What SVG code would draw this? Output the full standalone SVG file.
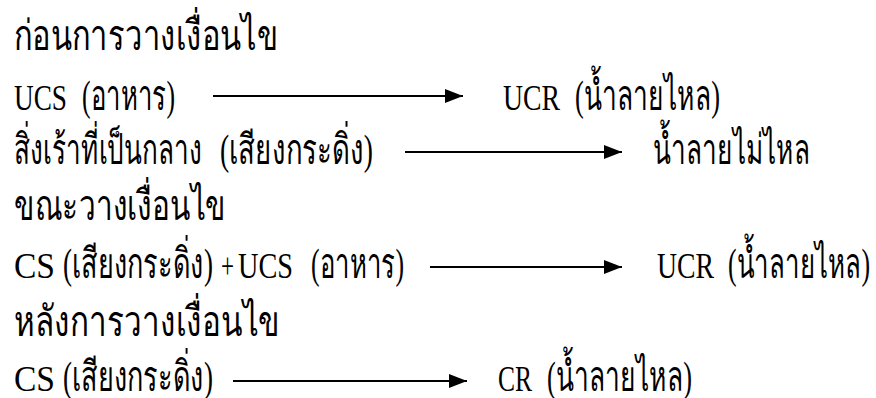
<svg xmlns="http://www.w3.org/2000/svg" width="876" height="398" viewBox="0 0 876 398">
<defs>
<marker id="ah" markerUnits="userSpaceOnUse" markerWidth="18" markerHeight="14" viewBox="0 0 18 14" refX="18" refY="7" orient="auto">
<path d="M0,0 L18,7 L0,14 Z" fill="#000"/>
</marker>
<style>
text{font-family:'Liberation Serif','Times New Roman',serif;font-size:35px;fill:#000}
text.th{font-size:42px}
.a{stroke:#000;stroke-width:2;fill:none;marker-end:url(#ah)}
</style>
</defs>
<rect width="876" height="398" fill="#fff"/>
<g id="h1"><text class="th" x="14" y="50" textLength="264" lengthAdjust="spacingAndGlyphs">ก่อนการวางเงื่อนไข</text></g>
<g id="ucs1">
<text x="14" y="110" textLength="53" lengthAdjust="spacingAndGlyphs">UCS</text>
<text class="th" x="82" y="110" textLength="93" lengthAdjust="spacingAndGlyphs">(อาหาร)</text>
</g>
<g id="ucr1">
<text x="503" y="110" textLength="57" lengthAdjust="spacingAndGlyphs">UCR</text>
<text class="th" x="575" y="110" textLength="145" lengthAdjust="spacingAndGlyphs">(น้ำลายไหล)</text>
</g>
<g id="ns">
<text class="th" x="14" y="164" textLength="188" lengthAdjust="spacingAndGlyphs">สิ่งเร้าที่เป็นกลาง</text>
<text class="th" x="220" y="164" textLength="153" lengthAdjust="spacingAndGlyphs">(เสียงกระดิ่ง)</text>
</g>
<g id="nr"><text class="th" x="653" y="164" textLength="157" lengthAdjust="spacingAndGlyphs">น้ำลายไม่ไหล</text></g>
<g id="h2"><text class="th" x="14" y="220" textLength="212" lengthAdjust="spacingAndGlyphs">ขณะวางเงื่อนไข</text></g>
<g id="csucs">
<text x="14" y="278" textLength="41" lengthAdjust="spacingAndGlyphs">CS</text>
<text class="th" x="63" y="278" textLength="150" lengthAdjust="spacingAndGlyphs">(เสียงกระดิ่ง)</text>
<text x="221" y="278" textLength="13" lengthAdjust="spacingAndGlyphs">+</text>
<text x="238" y="278" textLength="55" lengthAdjust="spacingAndGlyphs">UCS</text>
<text class="th" x="311" y="278" textLength="93" lengthAdjust="spacingAndGlyphs">(อาหาร)</text>
</g>
<g id="ucr2">
<text x="657" y="278" textLength="57" lengthAdjust="spacingAndGlyphs">UCR</text>
<text class="th" x="728" y="278" textLength="142" lengthAdjust="spacingAndGlyphs">(น้ำลายไหล)</text>
</g>
<g id="h3"><text class="th" x="14" y="336" textLength="266" lengthAdjust="spacingAndGlyphs">หลังการวางเงื่อนไข</text></g>
<g id="cs">
<text x="14" y="391" textLength="41" lengthAdjust="spacingAndGlyphs">CS</text>
<text class="th" x="63" y="391" textLength="150" lengthAdjust="spacingAndGlyphs">(เสียงกระดิ่ง)</text>
</g>
<g id="cr">
<text x="498" y="391" textLength="34" lengthAdjust="spacingAndGlyphs">CR</text>
<text class="th" x="547" y="391" textLength="145" lengthAdjust="spacingAndGlyphs">(น้ำลายไหล)</text>
</g>
<g id="connectors">
<line class="a" x1="213" y1="96" x2="463" y2="96"/>
<line class="a" x1="405" y1="152" x2="622" y2="152"/>
<line class="a" x1="430" y1="267" x2="622" y2="267"/>
<line class="a" x1="233" y1="381" x2="467" y2="381"/>
</g>
</svg>
